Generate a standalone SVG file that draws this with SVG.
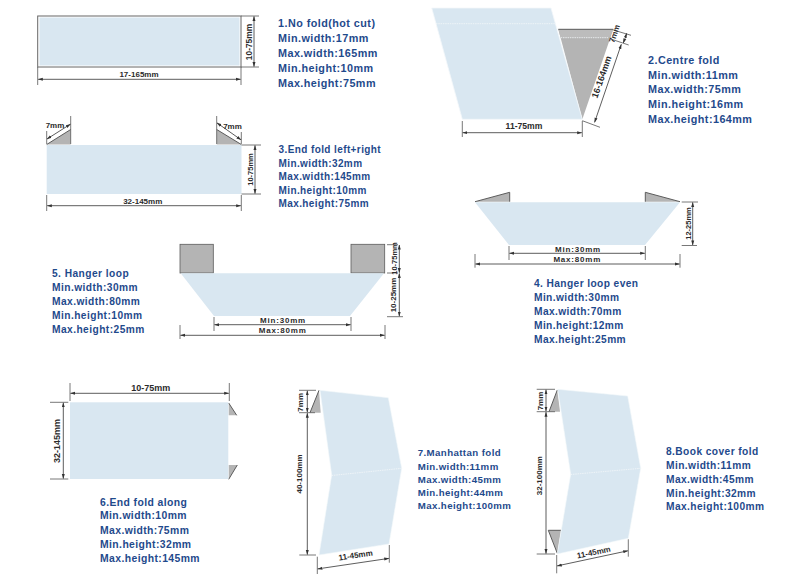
<svg xmlns="http://www.w3.org/2000/svg" width="800" height="574" viewBox="0 0 800 574">
<defs>
<marker id="a" viewBox="0 0 5 4" refX="4.6" refY="2" markerWidth="5" markerHeight="4" markerUnits="userSpaceOnUse" orient="auto-start-reverse"><path d="M5 2L0 .5V3.5Z" fill="#333"/></marker>
</defs>
<style>
.p{fill:#d9e7f1}
.g{fill:#b4b4b4}
.e{fill:none;stroke:#5c5c5c;stroke-width:1}
.f{fill:none;stroke:#f2f6f9;stroke-width:.8;stroke-dasharray:1.5 .8}
.t{font:bold 11px "Liberation Sans",Arial,sans-serif;letter-spacing:.45px;fill:#1f4a8c}
.d{font:bold 8px "Liberation Sans",Arial,sans-serif;fill:#2b2b2b;text-anchor:middle}
.b{font-size:9px}
.c{font-size:7.5px}
.w{letter-spacing:.8px}
.k{stroke:#555;stroke-width:.8;fill:none}
.l{stroke:#333;stroke-width:.8;fill:none;marker-start:url(#a);marker-end:url(#a)}
</style>
<rect width="800" height="574" fill="#fff"/>

<g id="node-1">
<rect x="37.7" y="16" width="203.3" height="51" fill="#fff" stroke="#666" stroke-width="1"/>
<rect x="39.5" y="17.5" width="200" height="48" class="p"/>
<text class="t" style="font-size:10.8px"><tspan x="278" y="27">1.No fold(hot cut)</tspan><tspan x="278" y="42">Min.width:17mm</tspan><tspan x="278" y="57">Max.width:165mm</tspan><tspan x="278" y="72">Min.height:10mm</tspan><tspan x="278" y="87">Max.height:75mm</tspan></text>
</g>

<g id="node-2">
<path class="g" d="M558.3 29.3H613.3L582.3 119.3Z"/>
<path d="M558.3 29.3H613.3L609 37.7H560.7Z" fill="#bcbcbc"/>
<path class="e" d="M558.3 29.3H613.3"/>
<path class="f" d="M560.7 37.7H608"/>
<path class="p" d="M431.7 8H551L582.3 119.3H462.3Z" stroke="#f4f8fa" stroke-width=".8"/>
<path class="f" d="M436 23.7H555.7"/>
<text class="t" style="font-size:10.8px"><tspan x="648" y="63.7">2.Centre fold</tspan><tspan x="648" y="78.7">Min.width:11mm</tspan><tspan x="648" y="93.3">Max.width:75mm</tspan><tspan x="648" y="108">Min.height:16mm</tspan><tspan x="648" y="123">Max.height:164mm</tspan></text>
</g>

<g id="node-3">
<path class="g" d="M46.7 144.5L70.7 129.5V144.5Z"/>
<path class="g" d="M216.7 129.5L241.3 144.5H216.7Z"/>
<path class="e" d="M46.7 144.5L70.7 129.5M216.7 129.5L241.3 144.5"/>
<rect x="46.7" y="145" width="194.8" height="49" class="p"/>
<text class="t" style="font-size:10px;letter-spacing:.4px"><tspan x="278.5" y="153">3.End fold left+right</tspan><tspan x="278.5" y="166.5">Min.width:32mm</tspan><tspan x="278.5" y="180">Max.width:145mm</tspan><tspan x="278.5" y="193.5">Min.height:10mm</tspan><tspan x="278.5" y="207">Max.height:75mm</tspan></text>
</g>

<g id="node-4">
<path class="g" d="M475 201.7L509.7 192.3V201.7Z"/>
<path class="g" d="M645.3 192.3L680 201.7H645.3Z"/>
<path class="e" d="M475 201.7L509.7 192.3V201.7M645.3 201.7V192.3L680 201.7"/>
<path class="p" d="M475 202.3H680L645 245H509Z"/>
<text class="t" style="font-size:10.2px;letter-spacing:.4px"><tspan x="534" y="287">4. Hanger loop even</tspan><tspan x="534" y="300.7">Min.width:30mm</tspan><tspan x="534" y="314.7">Max.width:70mm</tspan><tspan x="534" y="328.7">Min.height:12mm</tspan><tspan x="534" y="342.7">Max.height:25mm</tspan></text>
</g>

<g id="node-5">
<rect x="180" y="244.3" width="33.3" height="28.7" class="g" stroke="#5c5c5c" stroke-width=".8"/>
<rect x="351" y="244.3" width="33.7" height="28.7" class="g" stroke="#5c5c5c" stroke-width=".8"/>
<path class="p" d="M180.7 273.3H384L350 316H214Z"/>
<text class="t" style="font-size:10.2px;letter-spacing:.45px"><tspan x="52" y="277.3">5. Hanger loop</tspan><tspan x="52" y="291">Min.width:30mm</tspan><tspan x="52" y="305.3">Max.width:80mm</tspan><tspan x="52" y="319.3">Min.height:10mm</tspan><tspan x="52" y="333.3">Max.height:25mm</tspan></text>
</g>

<g id="node-6">
<path class="g" d="M228.7 403L236.7 415.3H228.7Z"/>
<path class="g" d="M228.7 465H237.3L228.7 479.3Z"/>
<path class="e" stroke-width=".6" d="M228.7 403L236.7 415.3M237.3 465L228.7 479.3"/>
<rect x="70" y="402.3" width="158.3" height="76.7" class="p"/>
<text class="t" style="font-size:10.4px;letter-spacing:.4px"><tspan x="100" y="505.7">6.End fold along</tspan><tspan x="100" y="519.3">Min.width:10mm</tspan><tspan x="100" y="533.7">Max.width:75mm</tspan><tspan x="100" y="547.7">Min.height:32mm</tspan><tspan x="100" y="562">Max.height:145mm</tspan></text>
</g>

<g id="node-7">
<path class="g" d="M319 390.3L320.7 412.7H310Z"/>
<path class="e" stroke-width=".6" d="M319 390.3L310 412.7"/>
<path class="p" d="M320 390.3L388.3 397.7L401.7 468.3L389 544L319 555L331.7 475Z" stroke="#f4f8fa" stroke-width=".6"/>
<path class="f" d="M331.7 475.5L401.7 468.3"/>
<text class="t" style="font-size:9.7px;letter-spacing:.4px"><tspan x="417.7" y="456.3">7.Manhattan fold</tspan><tspan x="417.7" y="469.7">Min.width:11mm</tspan><tspan x="417.7" y="482.7">Max.width:45mm</tspan><tspan x="417.7" y="496">Min.height:44mm</tspan><tspan x="417.7" y="509">Max.height:100mm</tspan></text>
</g>

<g id="node-8">
<path class="g" d="M557.3 390L560 411.7H549Z"/>
<path class="g" d="M548.3 530.3H561L557.3 553.3Z"/>
<path class="e" stroke-width=".6" d="M557.3 390L549 411.7M548.3 530.3H561M548.3 530.3L557.3 553.3"/>
<path class="p" d="M557.7 389.3L627.7 396L640.7 468.3L628.3 538.3L557.3 554L570.7 474.3Z" stroke="#f4f8fa" stroke-width=".6"/>
<path class="f" d="M570.7 474.5L640.7 468.3"/>
<text class="t" style="font-size:10.2px;letter-spacing:.42px"><tspan x="666" y="455.3">8.Book cover fold</tspan><tspan x="666" y="469">Min.width:11mm</tspan><tspan x="666" y="482.7">Max.width:45mm</tspan><tspan x="666" y="496.7">Min.height:32mm</tspan><tspan x="666" y="510.3">Max.height:100mm</tspan></text>
</g>

<g id="connectors">
<!-- 1 -->
<path class="k" d="M241 16H259M241 67H259M37.7 67V85M241 67V85"/>
<path class="l" d="M254 16.5V66.5"/>
<path class="l" d="M38.2 79.3H240.5"/>
<text class="d" transform="translate(252 42) rotate(-90)" style="font-size:8.4px">10-75mm</text>
<text class="d" x="139" y="77">17-165mm</text>
<!-- 3 -->
<path class="k" d="M46.7 131V144M70.7 116V144M216.7 116V144M241.3 132V144M241.5 145H261M241.5 194H261M46.7 195V211M241.3 195V211"/>
<path class="l" d="M47 139L70.4 124.2"/>
<path class="l" d="M217 122.9L241 139.8"/>
<path class="l" d="M255 145.5V193.5"/>
<path class="l" d="M47.2 205.7H240.8"/>
<text class="d" x="55" y="128">7mm</text>
<text class="d" x="232.5" y="128.5">7mm</text>
<text class="d c" transform="translate(252.5 169.5) rotate(-90)">10-75mm</text>
<text class="d" x="142.7" y="203.5">32-145mm</text>
<!-- 2 -->
<path class="k" d="M582.3 120.7L600 127.3M613.3 30L631 35.3M611.7 39.3L628.7 45M462.3 121V137M582.3 121V137"/>
<path class="l" d="M621.3 44.3L594.6 122.3"/>
<path class="l" d="M626.7 33.3L623.3 43"/>
<path class="l" d="M462.8 132.7H581.8"/>
<text class="d" transform="translate(617 34.5) rotate(-71)">7mm</text>
<text class="d b" transform="translate(604.5 78) rotate(-71)">16-164mm</text>
<text class="d" x="524" y="129.3" style="font-size:8.6px">11-75mm</text>
<!-- 4 -->
<path class="k" d="M681.7 202H698M681.7 245.5H697M509 246V260M645.3 246V260M475 254V267.7M680 254V267.7"/>
<path class="l" d="M692.7 202.5V245"/>
<path class="l" d="M509.5 253.3H644.8"/>
<path class="l" d="M475.5 264H679.5"/>
<text class="d c" transform="translate(690.5 223.5) rotate(-90)">12-25mm</text>
<text class="d w" x="578" y="251.7">Min:30mm</text>
<text class="d w" x="577.3" y="261.7">Max:80mm</text>
<!-- 5 -->
<path class="k" d="M387 244.7H398M387 273H398M387 316.7H403M214 317V331M351 317V331M180 325V339M385 325V339"/>
<path class="l" d="M399.3 245V272.7"/>
<path class="l" d="M399.3 273.5V316.2"/>
<path class="l" d="M214.5 324.7H350.5"/>
<path class="l" d="M180.5 335.3H384.5"/>
<text class="d c" transform="translate(396.5 258.5) rotate(-90)">10-75mm</text>
<text class="d" transform="translate(396 295) rotate(-90)">10-25mm</text>
<text class="d w" x="283" y="323.3">Min:30mm</text>
<text class="d w" x="282.7" y="333.3">Max:80mm</text>
<!-- 6 -->
<path class="k" d="M70 383V401M229.3 383V401M50 402.3H68.3M50 479H68.3"/>
<path class="l" d="M70.5 393.3H228.8"/>
<path class="l" d="M63.3 402.8V478.5"/>
<text class="d b" x="150.7" y="390.7">10-75mm</text>
<text class="d b" transform="translate(60 441) rotate(-90)">32-145mm</text>
<!-- 7 -->
<path class="k" d="M299 390.3H316M299 412.7H315M299.3 555H316M317.3 556.7V574M389.3 545V562.7"/>
<path class="l" d="M307.3 390.8V412.2"/>
<path class="l" d="M307.3 413.2V554.5"/>
<path class="l" d="M317.8 568.9L388.8 558.4"/>
<text class="d" transform="translate(303 402.3) rotate(-90)">7mm</text>
<text class="d" transform="translate(302 474) rotate(-90)">40-100mm</text>
<text class="d" transform="translate(356 558) rotate(-8)">11-45mm</text>
<!-- 8 -->
<path class="k" d="M536.7 389.3H555M536.7 411.7H555M536.7 554H555M556.7 555V573.3M628.3 539.3V556.7"/>
<path class="l" d="M546 389.8V411.2"/>
<path class="l" d="M546 412.2V553.5"/>
<path class="l" d="M557.2 565.9L627.8 550.8"/>
<text class="d" transform="translate(542.5 401) rotate(-90)">7mm</text>
<text class="d" transform="translate(542.3 475.7) rotate(-90)">32-100mm</text>
<text class="d" transform="translate(594.3 555) rotate(-12)">11-45mm</text>
</g>
</svg>
